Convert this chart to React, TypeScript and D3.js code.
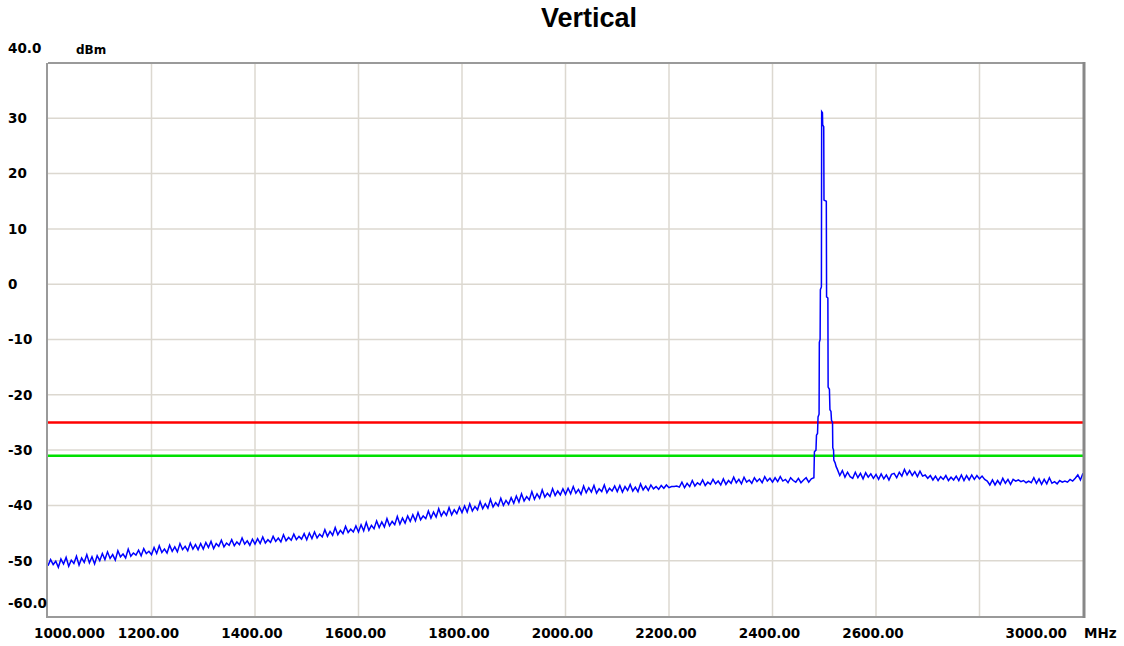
import React from "react";
import * as d3 from "d3";

const title = "Vertical";
const yUnit = "dBm";
const xUnit = "MHz";

const xDomain = [1000, 3000];
const yDomain = [-60, 40];

const xGridValues = [1200, 1400, 1600, 1800, 2000, 2200, 2400, 2600, 2800];
const yGridValues = [30, 20, 10, 0, -10, -20, -30, -40, -50];

const xTickValues = [1000, 1200, 1400, 1600, 1800, 2000, 2200, 2400, 2600, 3000];
const xTickLabels = ["1000.000", "1200.00", "1400.00", "1600.00", "1800.00", "2000.00", "2200.00", "2400.00", "2600.00", "3000.00"];

const yTickValues = [40, 30, 20, 10, 0, -10, -20, -30, -40, -50, -60];
const yTickLabels = ["40.0", "30", "20", "10", "0", "-10", "-20", "-30", "-40", "-50", "-60.0"];

const limitRed = -25;
const limitGreen = -31;

// Noise floor below the carrier: 1000..2475 MHz, one sample every 5 MHz
const lowStart = 1000;
const lowStep = 5;
const lowValues = [
  -50.9, -49.8, -50.7, -50.1, -51.2, -49.7, -50.6, -49.4, -51.0, -49.9, -50.5, -49.2, -50.8, -49.5, -50.3, -48.9, -50.4, -49.3, -50.6, -49.1,
  -50.0, -48.7, -49.8, -48.4, -49.6, -48.9, -49.9, -48.2, -49.3, -48.8, -49.5, -47.9, -49.2, -48.6, -49.0, -48.1, -49.1, -47.8, -48.7, -48.3,
  -48.9, -47.6, -48.7, -47.3, -48.5, -47.9, -48.6, -47.2, -48.3, -47.5, -48.4, -46.9, -48.0, -47.4, -48.2, -46.8, -47.9, -47.1, -48.0, -46.9,
  -47.9, -46.7, -47.6, -46.5, -47.8, -46.9, -47.4, -46.3, -47.5, -46.8, -47.2, -46.2, -47.3, -46.6, -47.1, -45.9, -47.0, -46.4, -47.2, -46.1,
  -47.0, -46.0, -46.9, -45.7, -46.8, -46.2, -46.7, -45.6, -46.5, -45.9, -46.6, -45.3, -46.4, -45.8, -46.3, -45.2, -46.2, -45.6, -46.1, -45.1,
  -46.2, -45.0, -46.0, -44.8, -45.9, -45.2, -45.7, -44.4, -45.6, -44.7, -45.4, -44.0, -45.3, -44.5, -45.1, -43.8, -44.9, -44.3, -44.8, -43.7,
  -44.8, -43.5, -44.6, -43.1, -44.5, -43.6, -44.2, -42.8, -44.0, -43.0, -43.9, -42.4, -43.7, -42.9, -43.5, -42.0, -43.4, -42.3, -43.2, -41.9,
  -42.9, -41.7, -42.8, -41.3, -42.6, -41.9, -42.4, -41.0, -42.3, -41.2, -42.1, -40.6, -41.9, -41.1, -41.8, -40.4, -41.7, -40.8, -41.5, -40.3,
  -41.3, -40.1, -41.2, -39.7, -41.0, -40.2, -40.8, -39.3, -40.6, -39.7, -40.5, -38.9, -40.3, -39.5, -40.1, -38.7, -40.0, -39.1, -39.8, -38.6,
  -39.6, -38.3, -39.4, -37.9, -39.2, -38.4, -39.0, -37.5, -38.9, -37.9, -38.7, -37.2, -38.5, -37.8, -38.4, -37.0, -38.2, -37.4, -38.1, -37.0,
  -38.0, -36.9, -37.9, -36.6, -37.8, -37.1, -38.0, -36.5, -37.7, -36.8, -37.6, -36.4, -37.8, -37.0, -37.5, -36.3, -37.7, -36.9, -37.4, -36.5,
  -37.5, -36.4, -37.6, -36.6, -37.3, -36.2, -37.4, -36.7, -37.5, -36.1, -37.2, -36.5, -37.3, -36.3, -37.0, -36.6, -37.1, -36.4, -36.9, -36.3,
  -36.8, -36.6, -36.6, -36.5, -36.7, -35.8, -36.8, -36.0, -36.6, -35.5, -36.5, -35.9, -36.3, -35.4, -36.4, -35.8, -36.2, -35.3, -36.1, -35.6,
  -36.3, -35.2, -36.2, -35.5, -36.0, -34.9, -35.9, -35.3, -36.1, -34.9, -35.8, -35.4, -36.0, -35.0, -35.7, -35.2, -35.9, -34.8, -35.6, -35.1,
  -35.8, -35.0, -35.7, -34.8, -35.6, -35.3, -35.9, -35.0, -35.5, -35.8, -35.1, -35.9, -35.4, -35.0, -35.8, -35.2,
];

// Carrier around 2.5 GHz
const peakFreqs = [2480, 2481, 2484, 2485, 2487, 2488, 2490, 2490.5, 2492, 2492.5, 2494.5, 2495, 2496.5, 2497, 2499, 2499.5, 2504, 2504.5, 2507, 2507.5, 2510, 2511, 2513, 2514, 2516, 2516.5, 2518, 2518.5, 2521, 2523];
const peakValues = [-35.0, -30.3, -30.0, -27.3, -27.0, -24.0, -23.5, -10.5, -10.0, -1.0, -0.5, 31.2, 31.0, 28.8, 28.5, 15.2, 15.0, -2.3, -2.5, -18.6, -19.0, -22.7, -23.0, -24.6, -25.0, -29.6, -30.0, -31.8, -32.3, -33.0];

// Noise floor above the carrier: 2525..3000 MHz, one sample every 5 MHz
const highStart = 2525;
const highStep = 5;
const highValues = [
  -33.4, -34.6, -33.7, -34.9, -34.0, -34.8, -35.1, -34.0, -35.0, -34.2, -35.2, -34.1, -34.9, -34.3, -35.1,
  -34.4, -35.3, -34.3, -35.2, -34.5, -35.4, -34.4, -34.2, -35.0, -34.0, -34.7, -33.5, -34.5, -33.7, -34.6, -33.9, -34.8, -33.8, -34.7, -34.5,
  -35.1, -34.6, -35.4, -34.7, -35.5, -34.8, -35.3, -34.6, -35.5, -34.9, -35.4, -34.7, -35.5, -34.5, -35.5, -34.6, -35.4, -34.5, -35.3, -34.6,
  -35.2, -34.7, -35.3, -35.6, -36.3, -35.4, -36.3, -35.5, -36.2, -35.1, -36.0, -35.3, -36.2, -35.3, -35.6, -35.4, -35.7, -35.5, -35.9, -35.6,
  -35.9, -35.0, -36.0, -35.2, -36.2, -35.3, -36.1, -35.0, -36.0, -35.7, -36.1, -35.5, -35.8, -35.6, -35.8, -35.3, -35.6, -35.1, -34.5, -35.4, -34.2,
];

const W = 1124;
const H = 646;
const plot = { left: 48, right: 1083, top: 63, bottom: 616 };

export default function App() {
  const x = d3.scaleLinear().domain(xDomain).range([plot.left, plot.right]);
  const y = d3.scaleLinear().domain(yDomain).range([plot.bottom, plot.top]);

  const pts: [number, number][] = [];
  lowValues.forEach((v, i) => pts.push([lowStart + i * lowStep, v]));
  peakFreqs.forEach((f, i) => pts.push([f, peakValues[i]]));
  highValues.forEach((v, i) => pts.push([highStart + i * highStep, v]));

  const line = d3
    .line<[number, number]>()
    .x((d) => x(d[0]))
    .y((d) => y(d[1]));

  const labelFont = "'DejaVu Sans', Verdana, sans-serif";
  const gridColor = "#dcd8d0";

  return (
    <svg
      width={W}
      height={H}
      style={{ position: "absolute", left: 0, top: 0, display: "block", background: "#fff" }}
    >
      <text
        x={589}
        y={27}
        textAnchor="middle"
        fontFamily="'Liberation Sans', Arial, sans-serif"
        fontWeight="bold"
        fontSize={27}
        fill="#000"
      >
        {title}
      </text>

      {/* grid */}
      {xGridValues.map((v) => (
        <line key={"gx" + v} x1={x(v)} x2={x(v)} y1={plot.top} y2={plot.bottom} stroke={gridColor} strokeWidth={1.5} />
      ))}
      {yGridValues.map((v) => (
        <line key={"gy" + v} x1={plot.left} x2={plot.right} y1={y(v)} y2={y(v)} stroke={gridColor} strokeWidth={1.5} />
      ))}

      {/* limit lines */}
      <line x1={plot.left} x2={plot.right} y1={y(limitRed)} y2={y(limitRed)} stroke="#ff0000" strokeWidth={2.5} />
      <line x1={plot.left} x2={plot.right} y1={y(limitGreen)} y2={y(limitGreen)} stroke="#00e000" strokeWidth={2.5} />

      {/* trace */}
      <path d={line(pts) || ""} fill="none" stroke="#0000ff" strokeWidth={1.5} strokeLinejoin="miter" />

      {/* frame */}
      <line x1={plot.left} x2={plot.right} y1={plot.top} y2={plot.top} stroke="#9a9a9a" strokeWidth={2} />
      <line x1={plot.left} x2={plot.right} y1={plot.bottom + 1} y2={plot.bottom + 1} stroke="#9a9a9a" strokeWidth={2} />
      <line x1={plot.left - 1} x2={plot.left - 1} y1={plot.top} y2={plot.bottom + 2} stroke="#9a9a9a" strokeWidth={2} />
      <line x1={plot.right + 1} x2={plot.right + 1} y1={plot.top - 1} y2={plot.bottom + 2} stroke="#888" strokeWidth={3} />

      {/* y labels */}
      {yTickValues.map((v, i) => {
        let cy = y(v);
        if (i === 0) cy = 48;
        if (i === yTickValues.length - 1) cy = 603;
        return (
          <text key={"yl" + v} x={8} y={cy} dy="0.36em" fontFamily={labelFont} fontWeight="bold" fontSize={13.5} fill="#000">
            {yTickLabels[i]}
          </text>
        );
      })}
      <text x={76} y={54} fontFamily={labelFont} fontWeight="bold" fontSize={12} fill="#000">
        {yUnit}
      </text>

      {/* x labels */}
      {xTickValues.map((v, i) => {
        let tx = x(v) - 3;
        let anchor = "middle";
        if (i === 0) {
          tx = 34;
          anchor = "start";
        }
        if (i === xTickValues.length - 1) {
          tx = 1067;
          anchor = "end";
        }
        return (
          <text key={"xl" + v} x={tx} y={638} textAnchor={anchor} fontFamily={labelFont} fontWeight="bold" fontSize={13.5} fill="#000">
            {xTickLabels[i]}
          </text>
        );
      })}
      <text x={1084} y={638} fontFamily={labelFont} fontWeight="bold" fontSize={13.5} fill="#000">
        {xUnit}
      </text>
    </svg>
  );
}
